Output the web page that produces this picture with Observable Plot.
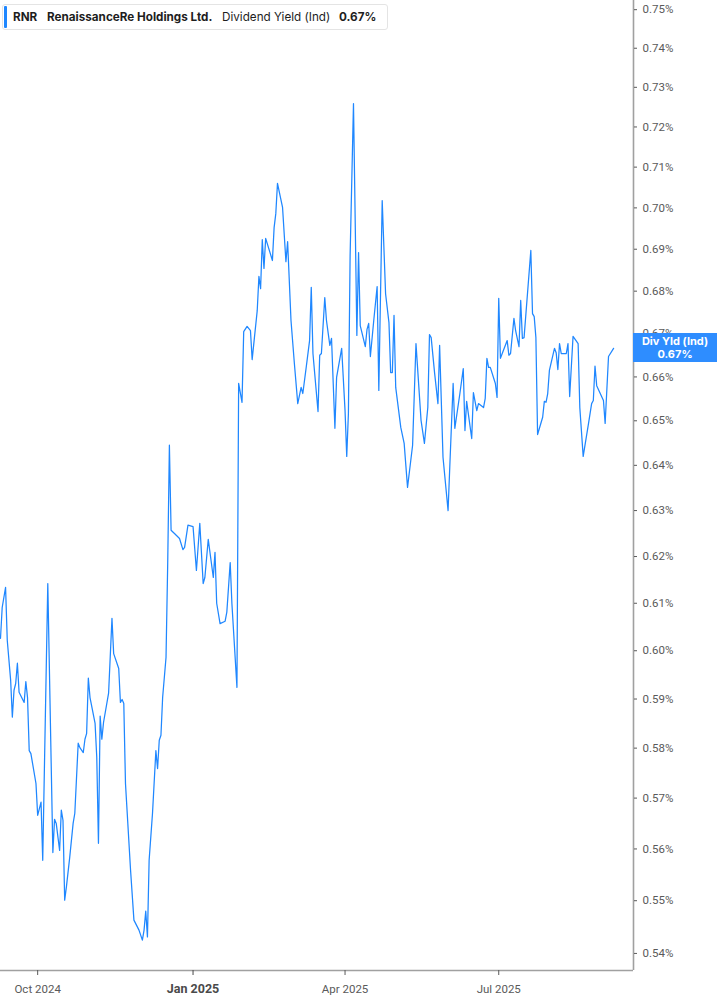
<!DOCTYPE html>
<html>
<head>
<meta charset="utf-8">
<script src="https://cdn.jsdelivr.net/npm/d3@7"></script>
<script src="https://cdn.jsdelivr.net/npm/@observablehq/plot@0.6"></script>
<style>
html,body{margin:0;padding:0;background:#fff;}
#wrap{position:relative;width:717px;height:1005px;overflow:hidden;font-family:Inter,"Noto Sans",sans-serif;}
#hdr{position:absolute;left:2px;top:4px;width:386px;height:26px;box-sizing:border-box;border:1px solid #e4e4e4;border-radius:3px;background:#fff;}
#hdr .bar{position:absolute;left:1px;top:1px;width:3px;height:22px;background:#1f87ff;border-radius:1px;}
#hdr span{position:absolute;top:5px;font-size:11.7px;line-height:14px;color:#1e1e1e;white-space:nowrap;}
#hdr .b{font-weight:700;}
#lastlbl{position:absolute;left:633px;width:84px;height:29px;background:#2e8dff;color:#fff;font-family:Inter,"Noto Sans",sans-serif;font-weight:700;font-size:11px;line-height:12.5px;text-align:center;box-sizing:border-box;padding-top:2px;}
</style>
</head>
<body>
<div id="wrap">
  <div id="chart"></div>
  <div id="hdr">
    <div class="bar"></div>
    <span class="b" style="left:10px">RNR</span>
    <span class="b" style="left:44px">RenaissanceRe Holdings Ltd.</span>
    <span style="left:219px">Dividend Yield (Ind)</span>
    <span class="b" style="left:336px">0.67%</span>
  </div>
  <div id="lastlbl">Div Yld (Ind)<br>0.67%</div>
</div>
<script>
const dates = [
"2024-09-09","2024-09-10","2024-09-12","2024-09-13","2024-09-15","2024-09-16","2024-09-17","2024-09-18","2024-09-19","2024-09-20",
"2024-09-23","2024-09-24","2024-09-25","2024-09-26","2024-09-27","2024-09-30","2024-10-01","2024-10-03","2024-10-04","2024-10-07",
"2024-10-10","2024-10-11","2024-10-12","2024-10-14","2024-10-15","2024-10-16","2024-10-17","2024-10-18","2024-10-20","2024-10-22",
"2024-10-23","2024-10-25","2024-10-26","2024-10-28","2024-10-29","2024-10-30","2024-10-31","2024-11-01","2024-11-04","2024-11-05",
"2024-11-06","2024-11-07","2024-11-08","2024-11-09","2024-11-12","2024-11-14","2024-11-15","2024-11-18","2024-11-19","2024-11-20",
"2024-11-21","2024-11-22","2024-11-25","2024-11-27","2024-11-30","2024-12-02","2024-12-03","2024-12-04","2024-12-05","2024-12-06",
"2024-12-08","2024-12-10","2024-12-11","2024-12-12","2024-12-13","2024-12-14","2024-12-16","2024-12-17","2024-12-18","2024-12-19",
"2024-12-21","2024-12-24","2024-12-26","2024-12-27","2024-12-29","2025-01-01","2025-01-03","2025-01-05","2025-01-07","2025-01-08",
"2025-01-10","2025-01-13","2025-01-14","2025-01-15","2025-01-17","2025-01-20","2025-01-21","2025-01-23","2025-01-24","2025-01-27",
"2025-01-28","2025-01-30","2025-01-31","2025-02-02","2025-02-04","2025-02-05","2025-02-08","2025-02-09","2025-02-10","2025-02-11",
"2025-02-12","2025-02-13","2025-02-17","2025-02-18","2025-02-19","2025-02-20","2025-02-23","2025-02-25","2025-02-26","2025-02-28",
"2025-03-02","2025-03-04","2025-03-06","2025-03-07","2025-03-09","2025-03-11","2025-03-12","2025-03-13","2025-03-16","2025-03-17",
"2025-03-18","2025-03-20","2025-03-21","2025-03-23","2025-03-24","2025-03-26","2025-03-27","2025-03-30","2025-04-01","2025-04-02",
"2025-04-03","2025-04-04","2025-04-06","2025-04-08","2025-04-09","2025-04-10","2025-04-13","2025-04-14","2025-04-15","2025-04-16",
"2025-04-18","2025-04-20","2025-04-21","2025-04-23","2025-04-25","2025-04-27","2025-04-28","2025-04-29","2025-04-30","2025-05-01",
"2025-05-04","2025-05-06","2025-05-08","2025-05-11","2025-05-13","2025-05-16","2025-05-18","2025-05-20","2025-05-21","2025-05-22",
"2025-05-24","2025-05-26","2025-05-27","2025-05-29","2025-06-01","2025-06-02","2025-06-04","2025-06-05","2025-06-08","2025-06-10",
"2025-06-11","2025-06-12","2025-06-15","2025-06-16","2025-06-18","2025-06-19","2025-06-22","2025-06-23","2025-06-24","2025-06-25",
"2025-06-26","2025-06-29","2025-06-30","2025-07-01","2025-07-02","2025-07-06","2025-07-07","2025-07-08","2025-07-10","2025-07-11",
"2025-07-13","2025-07-14","2025-07-15","2025-07-16","2025-07-20","2025-07-21","2025-07-22","2025-07-23","2025-07-24","2025-07-27",
"2025-07-28","2025-07-29","2025-07-30","2025-07-31","2025-08-03","2025-08-04","2025-08-05","2025-08-06","2025-08-07","2025-08-10",
"2025-08-11","2025-08-12","2025-08-14","2025-08-17","2025-08-18","2025-08-20","2025-08-23","2025-08-25","2025-08-26","2025-08-27",
"2025-08-28","2025-09-01","2025-09-02","2025-09-04","2025-09-07"
];
const values = [
0.6026,0.6091,0.6134,0.6022,0.5939,0.5863,0.5918,0.5932,0.5974,0.5914,
0.5893,0.5936,0.5903,0.5795,0.5789,0.5729,0.5666,0.5692,0.5578,0.6142,
0.5593,0.5658,0.5650,0.5597,0.5676,0.5656,0.5501,0.5526,0.5584,0.5650,
0.5670,0.5810,0.5801,0.5791,0.5818,0.5830,0.5943,0.5903,0.5850,0.5781,
0.5611,0.5865,0.5818,0.5852,0.5912,0.6068,0.5994,0.5963,0.5893,0.5899,
0.5891,0.5729,0.5559,0.5463,0.5444,0.5425,0.5444,0.5480,0.5431,0.5578,
0.5670,0.5795,0.5759,0.5816,0.5826,0.5903,0.5986,0.6185,0.6445,0.6257,
0.6250,0.6239,0.6215,0.6220,0.6268,0.6265,0.6170,0.6272,0.6142,0.6155,
0.6237,0.6155,0.6209,0.6100,0.6057,0.6062,0.6081,0.6187,0.6100,0.5924,
0.6585,0.6542,0.6705,0.6717,0.6707,0.6640,0.6754,0.6835,0.6806,0.6923,
0.6854,0.6926,0.6873,0.6952,0.6986,0.7060,0.7001,0.6870,0.6918,0.6731,
0.6631,0.6539,0.6576,0.6562,0.6622,0.6684,0.6809,0.6654,0.6521,0.6650,
0.6654,0.6785,0.6731,0.6673,0.6689,0.6483,0.6599,0.6666,0.6523,0.6420,
0.6517,0.6885,0.7259,0.6696,0.6892,0.6719,0.6670,0.6710,0.6724,0.6647,
0.6731,0.6811,0.6569,0.7018,0.6794,0.6726,0.6610,0.6610,0.6743,0.6576,
0.6485,0.6449,0.6351,0.6445,0.6677,0.6501,0.6449,0.6530,0.6698,0.6691,
0.6610,0.6539,0.6673,0.6418,0.6300,0.6395,0.6585,0.6483,0.6562,0.6619,
0.6478,0.6544,0.6460,0.6564,0.6523,0.6539,0.6530,0.6551,0.6643,0.6622,
0.6622,0.6585,0.6553,0.6783,0.6643,0.6684,0.6650,0.6654,0.6736,0.6707,
0.6670,0.6778,0.6689,0.6691,0.6897,0.6747,0.6740,0.6691,0.6469,0.6508,
0.6544,0.6542,0.6562,0.6615,0.6666,0.6656,0.6617,0.6677,0.6654,0.6654,
0.6677,0.6555,0.6694,0.6677,0.6530,0.6420,0.6490,0.6539,0.6546,0.6625,
0.6580,0.6546,0.6494,0.6647,0.6666
];
const yTicks = [0.54,0.55,0.56,0.57,0.58,0.59,0.60,0.61,0.62,0.63,0.64,0.65,0.66,0.67,0.68,0.69,0.70,0.71,0.72,0.73,0.74,0.75];
const xTicksMinor = ["2024-10-01","2025-04-01","2025-07-01"];
const xTicksMajor = ["2025-01-01"];
const xDomain = ["2024-09-09T00:00Z","2025-09-18T19:00Z"];
const yDomain = [0.5368,0.7524];

const toDate = s => new Date(s.length === 10 ? s + "T00:00:00Z" : s);
const data = dates.map((d, i) => ({date: toDate(d), value: values[i]}));
const xd = xDomain.map(toDate);
const fmtX = d3.utcFormat("%b %Y");

const chart = Plot.plot({
  width: 717,
  height: 1005,
  marginLeft: 0,
  marginRight: 84,
  marginTop: 0,
  marginBottom: 35,
  style: {background: "transparent", fontFamily: "Roboto, Inter, sans-serif", overflow: "visible"},
  x: {type: "utc", domain: xd, label: null},
  y: {type: "log", domain: yDomain, label: null},
  marks: [
    Plot.ruleY([yDomain[0]], {stroke: "#a0a0a0", strokeWidth: 1.6}),
    Plot.ruleX([xd[1]], {stroke: "#a0a0a0", strokeWidth: 1.6}),
    Plot.axisY(yTicks, {anchor: "right", label: null, tickSize: 3, tickPadding: 6, fontSize: 11.5, color: "#5a5a5a", tickFormat: d => d.toFixed(2) + "%"}),
    Plot.axisX(xTicksMinor.map(toDate), {anchor: "bottom", label: null, tickSize: 5, tickPadding: 9, fontSize: 11.5, color: "#5a5a5a", tickFormat: fmtX}),
    Plot.axisX(xTicksMajor.map(toDate), {anchor: "bottom", label: null, tickSize: 5, tickPadding: 9, fontSize: 12.5, fontWeight: "bold", color: "#4a4a4a", tickFormat: fmtX}),
    Plot.line(data, {x: "date", y: "value", stroke: "#1f87ff", strokeWidth: 1.25})
  ]
});
document.getElementById("chart").appendChild(chart);

const lastY = chart.scale("y").apply(values[values.length - 1]);
const lbl = document.getElementById("lastlbl");
lbl.style.top = (lastY - 14.5) + "px";
</script>
</body>
</html>
